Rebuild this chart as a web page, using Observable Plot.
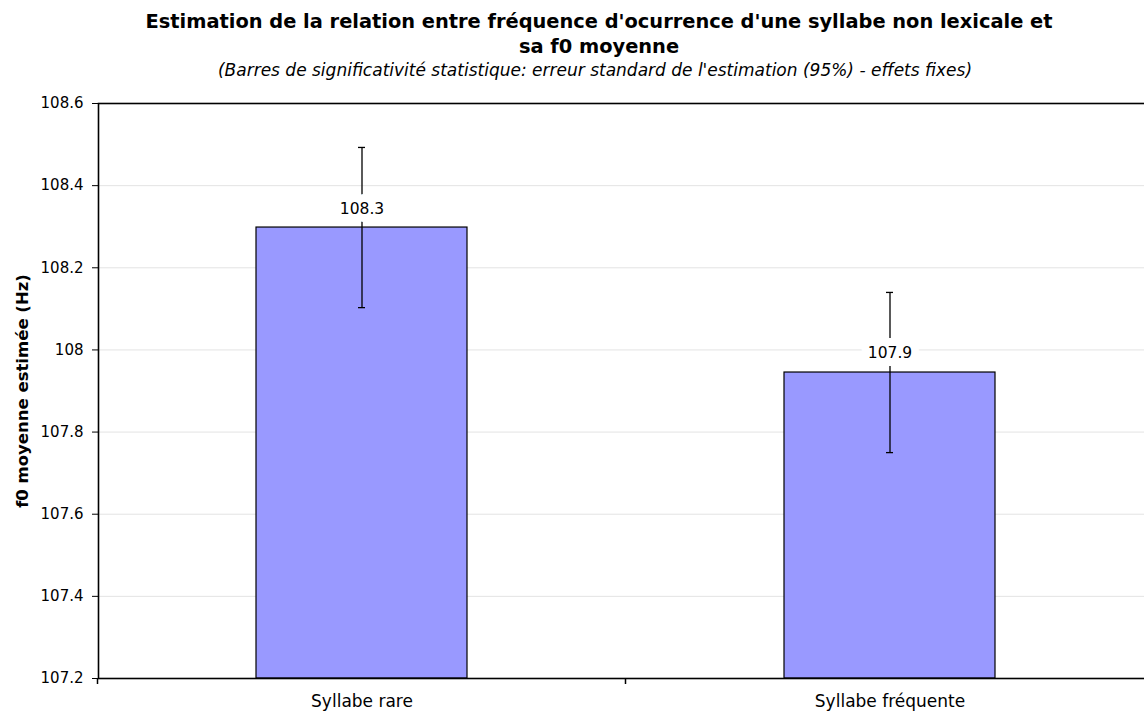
<!DOCTYPE html>
<html><head><meta charset="utf-8">
<script src="https://cdn.jsdelivr.net/npm/d3@7"></script>
<script src="https://cdn.jsdelivr.net/npm/@observablehq/plot@0.6"></script>
<style>
html,body{margin:0;padding:0;background:#fff;overflow:hidden;width:1144px;height:711px}
#wrap{position:relative;width:1144px;height:711px;overflow:hidden;font-family:"DejaVu Sans",Verdana,sans-serif;color:#000}
#title{position:absolute;left:0;top:9px;width:1198px;text-align:center;font-weight:bold;font-size:19.4px;line-height:25px;white-space:nowrap}
#subtitle{position:absolute;left:0;top:60px;width:1190px;text-align:center;font-style:italic;font-size:17px;line-height:20px;white-space:nowrap}
#chart{position:absolute;left:0;top:85px;width:1154px}
#chart svg{max-width:none !important;}
</style></head>
<body><div id="wrap">
<div id="title">Estimation de la relation entre fréquence d'ocurrence d'une syllabe non lexicale et<br>sa f0 moyenne</div>
<div id="subtitle">(Barres de significativité statistique: erreur standard de l'estimation (95%) - effets fixes)</div>
<div id="chart"></div>
</div>
<script>
const categories = ["Syllabe rare", "Syllabe fréquente"];
const estimates = [108.298, 107.945];
const errors = [0.195, 0.195];
const yDomain = [107.2, 108.6];
const yTicks = [107.2, 107.4, 107.6, 107.8, 108.0, 108.2, 108.4, 108.6];
const yLabel = "f0 moyenne estimée (Hz)";

const data = categories.map((c, i) => ({cat: c, est: estimates[i], lo: estimates[i] - errors[i], hi: estimates[i] + errors[i]}));

const boundaryTicks = (index, scales, values, dims) => {
  const x = scales.x;
  const bw = typeof x.bandwidth === "function" ? x.bandwidth() : 0;
  const step = typeof x.step === "function" ? x.step() : bw;
  const y0 = dims.height - dims.marginBottom;
  const xs = categories.map(c => x(c) - (step - bw) / 2);
  xs.push(xs[xs.length - 1] + step);
  const g = d3.create("svg:g");
  g.selectAll("line").data(xs).join("line")
    .attr("x1", d => d).attr("x2", d => d)
    .attr("y1", y0).attr("y2", y0 + 6)
    .attr("stroke", "black").attr("stroke-width", 1.5);
  return g.node();
};

const chart = Plot.plot({
  width: 1154,
  height: 626,
  marginLeft: 98,
  marginRight: 0,
  marginTop: 18,
  marginBottom: 33,
  style: {fontFamily: '"DejaVu Sans", Verdana, sans-serif', fontSize: "15px", color: "#000", background: "transparent", maxWidth: "none"},
  x: {domain: categories, paddingInner: 0.6, paddingOuter: 0.3},
  y: {domain: yDomain},
  marks: [
    Plot.gridY(yTicks, {stroke: "#e3e3e3", strokeOpacity: 1}),
    Plot.barY(data, {x: "cat", y1: yDomain[0], y2: "est", fill: "#9999ff", stroke: "black", strokeWidth: 1.2}),
    Plot.ruleX(data, {x: "cat", y1: "lo", y2: "hi", stroke: "black", strokeWidth: 1.3}),
    Plot.tickY(data, {x: "cat", y: "lo", stroke: "black", strokeWidth: 1.3, insetLeft: 102, insetRight: 102}),
    Plot.tickY(data, {x: "cat", y: "hi", stroke: "black", strokeWidth: 1.3, insetLeft: 102, insetRight: 102}),
    Plot.text(data, {x: "cat", y: "est", text: d => d3.format(".1f")(d.est), dy: -19, fill: "black", stroke: "white", strokeWidth: 16, paintOrder: "stroke", strokeLinejoin: "round", fontSize: 15.5}),
    Plot.frame({stroke: "black", strokeWidth: 1.6}),
    Plot.axisY({ticks: yTicks, tickFormat: d => String(+d.toFixed(1)), tickSize: 6, tickPadding: 9, label: null, fontSize: 15}),
    Plot.axisX({tickSize: 0, tickPadding: 16, label: null, fontSize: 17}),
    boundaryTicks,
    Plot.text([yLabel], {frameAnchor: "left", rotate: -90, dx: -76, textAnchor: "middle", fontWeight: "bold", fontSize: 16.5})
  ]
});
document.getElementById("chart").appendChild(chart);
</script>
</body></html>
